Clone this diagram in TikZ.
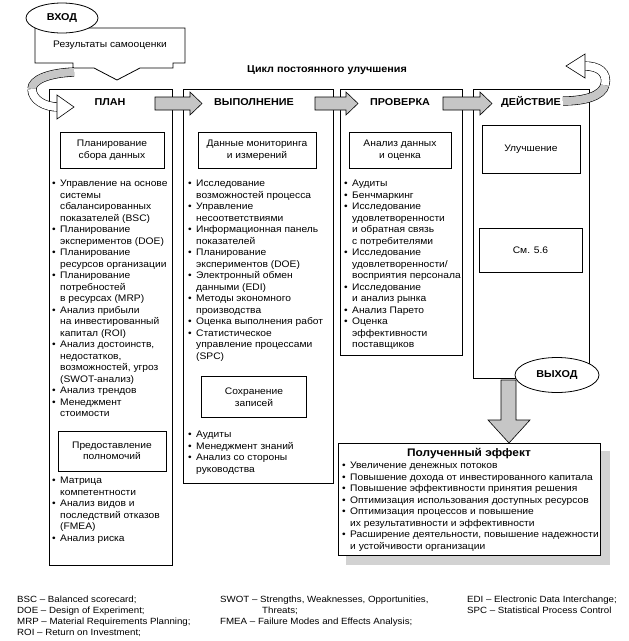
\documentclass[tikz,border=0pt]{standalone}
\usepackage{fontspec}
\setmainfont{Liberation Sans}[FakeStretch=1.08]
\usetikzlibrary{shapes.geometric}

\newcommand\body{\fontsize{9.5}{11.5}\selectfont}
\newcommand\bitem{\makebox[8pt][l]{\textbullet}}
\newcommand\bcont{\hspace*{8pt}}

\begin{document}
\begin{tikzpicture}[%
    x=1pt, y=-1pt,
    column/.style={
      rectangle,
      draw=black,
      line width=0.8pt,
      fill=white,
      inner sep=0pt,
      anchor=north west
    },
    block/.style={
      rectangle,
      draw=black,
      line width=0.8pt,
      fill=white,
      align=center,
      inner sep=0pt,
      font=\body
    },
    head/.style={
      font=\fontsize{10}{12}\selectfont\bfseries
    },
    list/.style={
      anchor=north west,
      align=left,
      inner sep=0pt,
      font=\body
    },
    note/.style={
      anchor=north west,
      align=left,
      inner sep=0pt,
      font=\fontsize{9}{11}\selectfont
    },
    oval/.style={
      draw=black,
      line width=0.8pt,
      ellipse,
      fill=white,
      inner sep=0pt,
      font=\fontsize{10}{12}\selectfont\bfseries
    },
    hatch/.style={
      draw=black,
      line width=0.6pt,
      fill=gray!45
    },
    band/.style={
      line width=0.6pt,
      double distance=8pt
    }
  ]
    \useasboundingbox (0,0) rectangle (629,641);

    % input
    \filldraw[draw=black, line width=0.8pt, fill=white] (35,28) -- (185,28) -- (185,63) -- (173,63)
      -- (173,68) -- (140,68) -- (117,80) -- (94,68) -- (73,68) -- (73,63) -- (35,63) -- cycle;
    \node[font=\body] (self) at (110,45) {Результаты самооценки};
    \node[oval, minimum width=72pt, minimum height=30pt] (in) at (62,18) {ВХОД};

    \node[font=\fontsize{10}{12}\selectfont\bfseries] (title) at (327,70) {Цикл постоянного улучшения};

    % the four stages
    \node[column, minimum width=123pt, minimum height=476pt] (plan) at (49,89) {};
    \node[column, minimum width=150pt, minimum height=394pt] (doing) at (183,89) {};
    \node[column, minimum width=122pt, minimum height=266pt] (check) at (340,89) {};
    \node[column, minimum width=116pt, minimum height=289pt] (act) at (473,89) {};

    \foreach \xa/\xb in {155/202, 315/358, 443/492}
      \filldraw[hatch] (\xa,97) -- (\xb-12,97) -- (\xb-12,92) -- (\xb,103.5)
        -- (\xb-12,115) -- (\xb-12,110) -- (\xa,110) -- cycle;

    \node[head] (planh) at (110,102) {ПЛАН};
    \node[head] (doingh) at (254,102) {ВЫПОЛНЕНИЕ};
    \node[head] (checkh) at (400,102) {ПРОВЕРКА};
    \node[head] (acth) at (531,102) {ДЕЙСТВИЕ};

    % loop arrows
    \draw[band, double=gray!45] (74,72) .. controls (48,73) and (32,80) .. (32,89);
    \draw[band, double=white] (32,89) .. controls (32,100) and (45,107) .. (58,107);
    \filldraw[draw=black, line width=0.6pt, fill=white] (57,103) -- (57,95) -- (74,107)
      -- (57,119) -- (57,111) -- cycle;
    \draw[band, double=gray!45] (563,101) .. controls (585,101) and (602,96) .. (605,85);
    \draw[band, double=white] (605,85) .. controls (608,72) and (598,66) .. (585,66);
    \filldraw[draw=black, line width=0.6pt, fill=white] (585,62) -- (585,54) -- (566,66)
      -- (585,78) -- (585,70) -- cycle;

    % plan
    \node[block, minimum width=104pt, minimum height=36pt] (collect) at (112,150)
      {Планирование\\сбора данных};
    \node[list] (planlist) at (52,180) {%
      \bitem Управление на основе\\
      \bcont системы\\
      \bcont сбалансированных\\
      \bcont показателей (BSC)\\
      \bitem Планирование\\
      \bcont экспериментов (DOE)\\
      \bitem Планирование\\
      \bcont ресурсов организации\\
      \bitem Планирование\\
      \bcont потребностей\\
      \bcont в ресурсах (MRP)\\
      \bitem Анализ прибыли\\
      \bcont на инвестированный\\
      \bcont капитал (ROI)\\
      \bitem Анализ достоинств,\\
      \bcont недостатков,\\
      \bcont возможностей, угроз\\
      \bcont (SWOT-анализ)\\
      \bitem Анализ трендов\\
      \bitem Менеджмент\\
      \bcont стоимости};
    \node[block, minimum width=108pt, minimum height=40pt] (power) at (112,451)
      {Предоставление\\полномочий};
    \node[list] (planlist2) at (52,477) {%
      \bitem Матрица\\
      \bcont компетентности\\
      \bitem Анализ видов и\\
      \bcont последствий отказов\\
      \bcont (FMEA)\\
      \bitem Анализ риска};

    % do
    \node[block, minimum width=118pt, minimum height=36pt] (monitor) at (257,150)
      {Данные мониторинга\\и измерений};
    \node[list] (doinglist) at (188,180) {%
      \bitem Исследование\\
      \bcont возможностей процесса\\
      \bitem Управление\\
      \bcont несоответствиями\\
      \bitem Информационная панель\\
      \bcont показателей\\
      \bitem Планирование\\
      \bcont экспериментов (DOE)\\
      \bitem Электронный обмен\\
      \bcont данными (EDI)\\
      \bitem Методы экономного\\
      \bcont производства\\
      \bitem Оценка выполнения работ\\
      \bitem Статистическое\\
      \bcont управление процессами\\
      \bcont (SPC)};
    \node[block, minimum width=105pt, minimum height=41pt] (records) at (254,397)
      {Сохранение\\записей};
    \node[list] (doinglist2) at (188,431) {%
      \bitem Аудиты\\
      \bitem Менеджмент знаний\\
      \bitem Анализ со стороны\\
      \bcont руководства};

    % check
    \node[block, minimum width=102pt, minimum height=36pt] (analysis) at (400,150)
      {Анализ данных\\и оценка};
    \node[list] (checklist) at (344,180) {%
      \bitem Аудиты\\
      \bitem Бенчмаркинг\\
      \bitem Исследование\\
      \bcont удовлетворенности\\
      \bcont и обратная связь\\
      \bcont с потребителями\\
      \bitem Исследование\\
      \bcont удовлетворенности/\\
      \bcont восприятия персонала\\
      \bitem Исследование\\
      \bcont и анализ рынка\\
      \bitem Анализ Парето\\
      \bitem Оценка\\
      \bcont эффективности\\
      \bcont поставщиков};

    % act
    \node[block, minimum width=98pt, minimum height=48pt] (improve) at (531,149) {Улучшение};
    \node[block, minimum width=103pt, minimum height=44pt] (see) at (530.5,250) {См. 5.6};

    % output
    \filldraw[hatch] (501,380) -- (516,380) -- (516,420) -- (530,420) -- (509,443)
      -- (488,420) -- (501,420) -- cycle;
    \node[oval, minimum width=84pt, minimum height=35pt] (out) at (557,375) {ВЫХОД};

    \fill[gray!35] (346,451) rectangle (610,565);
    \node[column, minimum width=262pt, minimum height=112pt] (effect) at (338,443) {};
    \node[head, font=\fontsize{11}{13}\selectfont\bfseries] (efftitle) at (469,454) {Полученный эффект};
    \node[list] (efflist) at (342,462) {%
      \bitem Увеличение денежных потоков\\
      \bitem Повышение дохода от инвестированного капитала\\
      \bitem Повышение эффективности принятия решения\\
      \bitem Оптимизация использования доступных ресурсов\\
      \bitem Оптимизация процессов и повышение\\
      \bcont их результативности и эффективности\\
      \bitem Расширение деятельности, повышение надежности\\
      \bcont и устойчивости организации};

    % abbreviations
    \node[note] (abbr1) at (17,596) {%
      BSC -- Balanced scorecard;\\
      DOE -- Design of Experiment;\\
      MRP -- Material Requirements Planning;\\
      ROI -- Return on Investment;};
    \node[note] (abbr2) at (220,596) {%
      SWOT -- Strengths, Weaknesses, Opportunities,\\
      \hspace*{42pt}Threats;\\
      FMEA -- Failure Modes and Effects Analysis;};
    \node[note] (abbr3) at (467,596) {%
      EDI -- Electronic Data Interchange;\\
      SPC -- Statistical Process Control};
  \end{tikzpicture}
\end{document}
